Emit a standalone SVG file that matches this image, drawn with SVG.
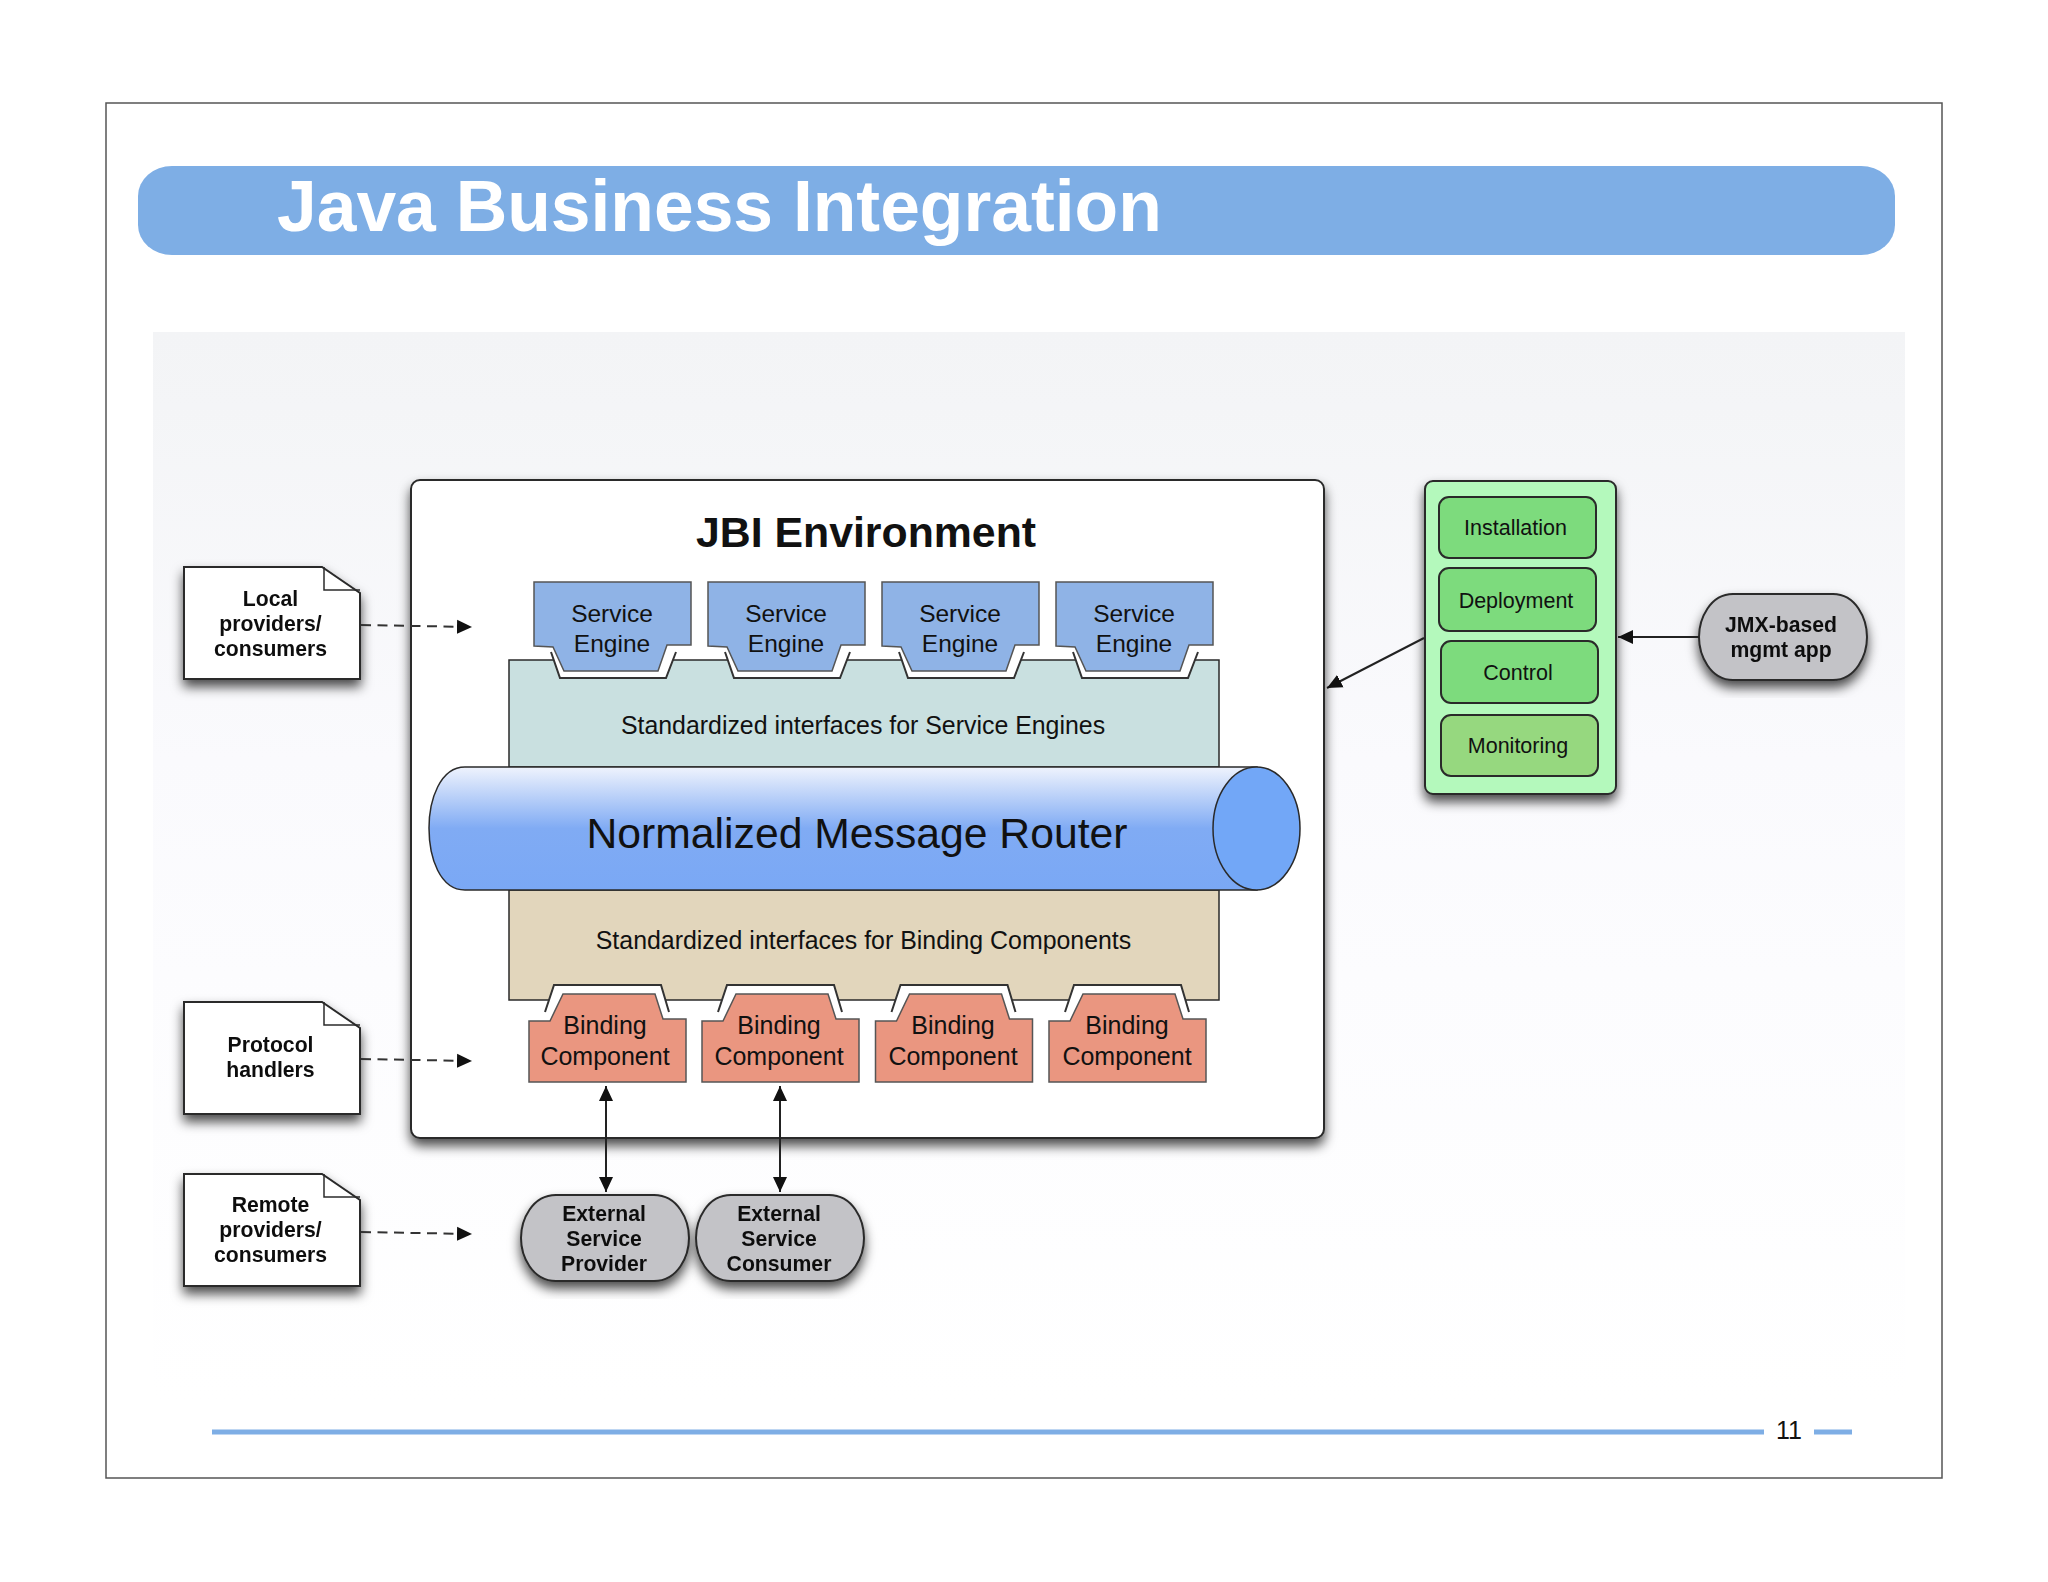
<svg xmlns="http://www.w3.org/2000/svg" xmlns:xlink="http://www.w3.org/1999/xlink" width="2048" height="1582" viewBox="0 0 2048 1582">
<style>
text{font-family:"Liberation Sans",Arial,sans-serif;fill:#111;text-anchor:middle}
.b{font-weight:bold;font-size:21.2px}
.n{font-size:24.5px}
.c{font-size:25px}
.m{font-size:21.5px}
.i{font-size:24.9px}
.sh{filter:url(#shadow)}
.sockfill{fill:#fff;stroke:none}
.sockline{fill:none;stroke:#333;stroke-width:2}
.se{fill:#8fb3e6;stroke:#555;stroke-width:1.5}
.bc{fill:#ea9680;stroke:#555;stroke-width:1.5}
.pill{fill:#c3c3c7;stroke:#2a2a2a;stroke-width:2}
.doc{fill:#fff;stroke:#2a2a2a;stroke-width:2}
.op{fill:#7ddb7d;stroke:#2a2a2a;stroke-width:2}
.conn{fill:none;stroke:#222;stroke-width:2}
.dash{stroke-dasharray:10 6.5;stroke:#333}
.rule{fill:#7eaee5}
</style>
<defs>
<filter id="shadow" x="-15%" y="-15%" width="130%" height="135%"><feDropShadow dx="0" dy="7" stdDeviation="6" flood-color="#000" flood-opacity="0.7"/></filter>
<linearGradient id="bg" x1="0" y1="0" x2="0" y2="1"><stop offset="0" stop-color="#f3f4f6"/><stop offset="0.07" stop-color="#f4f5f7"/><stop offset="0.4" stop-color="#fafafd"/><stop offset="0.6" stop-color="#fcfcfe"/><stop offset="1" stop-color="#fff"/></linearGradient>
<linearGradient id="tube" x1="0" y1="0" x2="0" y2="1"><stop offset="0" stop-color="#eff3fd"/><stop offset="0.5" stop-color="#80abf4"/><stop offset="1" stop-color="#7aa8f5"/></linearGradient>
<marker id="ah" markerUnits="userSpaceOnUse" markerWidth="16" markerHeight="15" refX="15" refY="7.5" orient="auto-start-reverse"><path d="M0,0.5 L15,7.5 L0,14.5 Z" fill="#111"/></marker>
<g id="seSock"><path class="sockfill" d="M551,652 L560,678 H666 L676,652 Z"/><path class="sockline" d="M551,652 L560,678 H666 L676,652"/></g>
<path id="seShape" class="se" d="M534,582 H691 V645 H667 L658,671 H564 L553,647 L534,646 Z"/>
<g id="bcSock"><path class="sockfill" d="M545,1012 L554,985 H661 L669,1012 Z"/><path class="sockline" d="M545,1012 L554,985 H661 L669,1012"/></g>
<path id="bcShape" class="bc" d="M529,1021 H550 L563,994 H655 L663,1019 H686 V1082 H529 Z"/>
<path id="docShape" class="doc" d="M184,0 H322 L360,26 V112 H184 Z"/>
</defs>
<rect width="2048" height="1582" fill="#fff"/>
<rect x="106" y="103" width="1836" height="1375" fill="#fff" stroke="#555" stroke-width="1.5"/>
<rect x="153" y="332" width="1752" height="1068" fill="url(#bg)"/>
<g id="title">
<rect x="138" y="166" width="1757" height="89" rx="34" ry="30" fill="#7eaee5"/>
<text x="277" y="231" style="text-anchor:start;fill:#fff;font-weight:bold;font-size:71.4px">Java Business Integration</text>
</g>
<g id="footer">
<rect class="rule" x="212" y="1429.5" width="1552" height="5"/>
<rect class="rule" x="1814" y="1429.5" width="38" height="5"/>
<text x="1789" y="1439" style="font-size:25px">11</text>
</g>
<g id="jbi-environment">
<rect class="sh" x="411" y="480" width="913" height="658" rx="9" fill="#fff" stroke="#2a2a2a" stroke-width="2"/>
<text x="866" y="547" style="font-weight:bold;font-size:42.8px">JBI Environment</text>
</g>
<g id="se-interfaces">
<rect x="509" y="660" width="710" height="107" fill="#c9e0e0" stroke="#2a2a2a" stroke-width="1.5"/>
<text class="i" x="863" y="734">Standardized interfaces for Service Engines</text>
</g>
<g id="bc-interfaces">
<rect x="509" y="890" width="710" height="110" fill="#e2d6bc" stroke="#2a2a2a" stroke-width="1.5"/>
<text class="i" x="863.500" y="949">Standardized interfaces for Binding Components</text>
</g>
<g id="service-engine-1"><use xlink:href="#seSock"/><use xlink:href="#seShape"/><text class="n" x="612" y="622">Service</text><text class="n" x="612" y="652">Engine</text></g>
<g id="service-engine-2"><use xlink:href="#seSock" x="174"/><use xlink:href="#seShape" x="174"/><text class="n" x="786" y="622">Service</text><text class="n" x="786" y="652">Engine</text></g>
<g id="service-engine-3"><use xlink:href="#seSock" x="348"/><use xlink:href="#seShape" x="348"/><text class="n" x="960" y="622">Service</text><text class="n" x="960" y="652">Engine</text></g>
<g id="service-engine-4"><use xlink:href="#seSock" x="522"/><use xlink:href="#seShape" x="522"/><text class="n" x="1134" y="622">Service</text><text class="n" x="1134" y="652">Engine</text></g>
<g id="router">
<path d="M1257,767 H465 C440,767 429,800 429,828 C429,858 440,890 465,890 H1257 Z" fill="url(#tube)" stroke="#2a2a2a" stroke-width="1.5"/>
<ellipse cx="1256.500" cy="828.500" rx="43.500" ry="61.500" fill="#72a7f7" stroke="#2a2a2a" stroke-width="1.5"/>
<text x="857" y="848" style="font-size:42.7px">Normalized Message Router</text>
</g>
<g id="binding-component-1"><use xlink:href="#bcSock"/><use xlink:href="#bcShape"/><text class="c" x="605" y="1034">Binding</text><text class="c" x="605" y="1065">Component</text></g>
<g id="binding-component-2"><use xlink:href="#bcSock" x="173"/><use xlink:href="#bcShape" x="173"/><text class="c" x="779" y="1034">Binding</text><text class="c" x="779" y="1065">Component</text></g>
<g id="binding-component-3"><use xlink:href="#bcSock" x="346.500"/><use xlink:href="#bcShape" x="346.500"/><text class="c" x="953" y="1034">Binding</text><text class="c" x="953" y="1065">Component</text></g>
<g id="binding-component-4"><use xlink:href="#bcSock" x="520"/><use xlink:href="#bcShape" x="520"/><text class="c" x="1127" y="1034">Binding</text><text class="c" x="1127" y="1065">Component</text></g>
<g id="doc-local" class="sh"><use xlink:href="#docShape" y="567"/><path d="M324,567 V590 H360" fill="none" stroke="#2a2a2a" stroke-width="1.5"/><text class="b" x="270.500" y="606">Local</text><text class="b" x="270.500" y="631">providers/</text><text class="b" x="270.500" y="656">consumers</text></g>
<g id="doc-protocol" class="sh"><use xlink:href="#docShape" y="1002"/><path d="M324,1002 V1025 H360" fill="none" stroke="#2a2a2a" stroke-width="1.5"/><text class="b" x="270.500" y="1052">Protocol</text><text class="b" x="270.500" y="1077">handlers</text></g>
<g id="doc-remote" class="sh"><use xlink:href="#docShape" y="1174"/><path d="M324,1174 V1197 H360" fill="none" stroke="#2a2a2a" stroke-width="1.5"/><text class="b" x="270.500" y="1212">Remote</text><text class="b" x="270.500" y="1237">providers/</text><text class="b" x="270.500" y="1262">consumers</text></g>
<g id="external-provider" class="sh"><path class="pill" d="M556,1195 H654 C678,1195 689,1220 689,1238 C689,1256 678,1281 654,1281 H556 C532,1281 521,1256 521,1238 C521,1220 532,1195 556,1195 Z"/><text class="b" x="604" y="1221">External</text><text class="b" x="604" y="1246">Service</text><text class="b" x="604" y="1271">Provider</text></g>
<g id="external-consumer" class="sh"><path class="pill" d="M731,1195 H829 C853,1195 864,1220 864,1238 C864,1256 853,1281 829,1281 H731 C707,1281 696,1256 696,1238 C696,1220 707,1195 731,1195 Z"/><text class="b" x="779" y="1221">External</text><text class="b" x="779" y="1246">Service</text><text class="b" x="779" y="1271">Consumer</text></g>
<g id="management-panel">
<rect class="sh" x="1425" y="481" width="191" height="313" rx="8" fill="#b4f9bc" stroke="#2a2a2a" stroke-width="2"/>
</g>
<g id="installation"><rect class="op" x="1439" y="497" width="157" height="61" rx="10"/><text class="m" x="1515.500" y="535">Installation</text></g>
<g id="deployment"><rect class="op" x="1439" y="568" width="157" height="63" rx="10"/><text class="m" x="1516" y="608">Deployment</text></g>
<g id="control"><rect class="op" x="1441" y="641" width="157" height="62" rx="10"/><text class="m" x="1518" y="680">Control</text></g>
<g id="monitoring"><rect x="1441" y="715" width="157" height="61" rx="10" fill="#96d87f" stroke="#2a2a2a" stroke-width="2"/><text class="m" x="1518" y="753">Monitoring</text></g>
<g id="jmx-app" class="sh"><path class="pill" d="M1733,594 H1833 C1856,594 1867,619 1867,637 C1867,655 1856,680 1833,680 H1733 C1710,680 1699,655 1699,637 C1699,619 1710,594 1733,594 Z"/><text class="b" x="1781" y="632">JMX-based</text><text class="b" x="1781" y="657">mgmt app</text></g>
<g id="connectors">
<path class="conn dash" d="M361,625 L472,627" marker-end="url(#ah)"/>
<path class="conn dash" d="M361,1059 L472,1061" marker-end="url(#ah)"/>
<path class="conn dash" d="M361,1232 L472,1234" marker-end="url(#ah)"/>
<path class="conn" d="M606,1086 V1192" marker-start="url(#ah)" marker-end="url(#ah)"/>
<path class="conn" d="M780,1086 V1192" marker-start="url(#ah)" marker-end="url(#ah)"/>
<path class="conn" d="M1424,638 L1327,688" marker-end="url(#ah)"/>
<path class="conn" d="M1699,637 H1618" marker-end="url(#ah)"/>
</g>
</svg>
